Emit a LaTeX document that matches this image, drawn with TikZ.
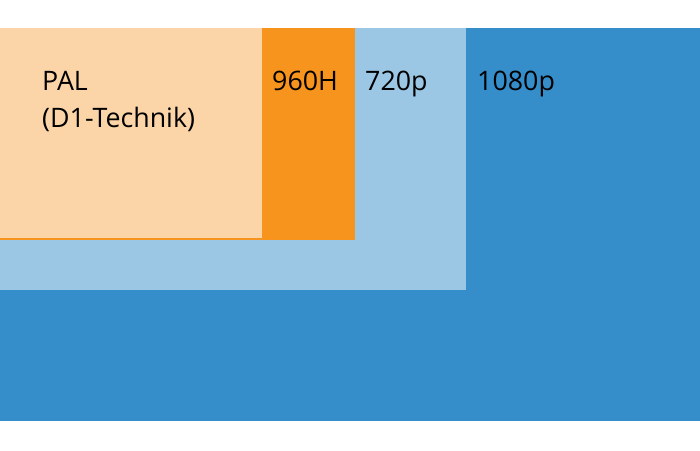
\documentclass[tikz,border=0pt]{standalone}
\usepackage{fontspec}
\setmainfont{Open Sans}
\definecolor{hdfull}{RGB}{53,141,201}
\definecolor{hdready}{RGB}{155,199,229}
\definecolor{ninesixty}{RGB}{247,148,29}
\definecolor{palcol}{RGB}{251,213,168}
\tikzset{
  lbl/.style={anchor=base west, inner sep=0pt, font=\fontsize{26.8}{30}\selectfont, text=black}
}
\begin{document}
\begin{tikzpicture}[x=1pt,y=-1pt]
\useasboundingbox[fill=white] (0,0) rectangle (700,450);
\fill[hdfull] (0,28) rectangle (700,421);
\fill[hdready] (0,28) rectangle (466,290);
\fill[ninesixty] (0,28) rectangle (355,240);
\fill[palcol] (0,28) rectangle (262,238);
\node[lbl] (pal) at (42,90) {PAL};
\node[lbl] (d1) at (42,127) {(D1-Technik)};
\node[lbl] (h960) at (272,90) {960H};
\node[lbl] (p720) at (365,90) {720p};
\node[lbl] (p1080) at (477,90) {1080p};
\end{tikzpicture}
\end{document}
